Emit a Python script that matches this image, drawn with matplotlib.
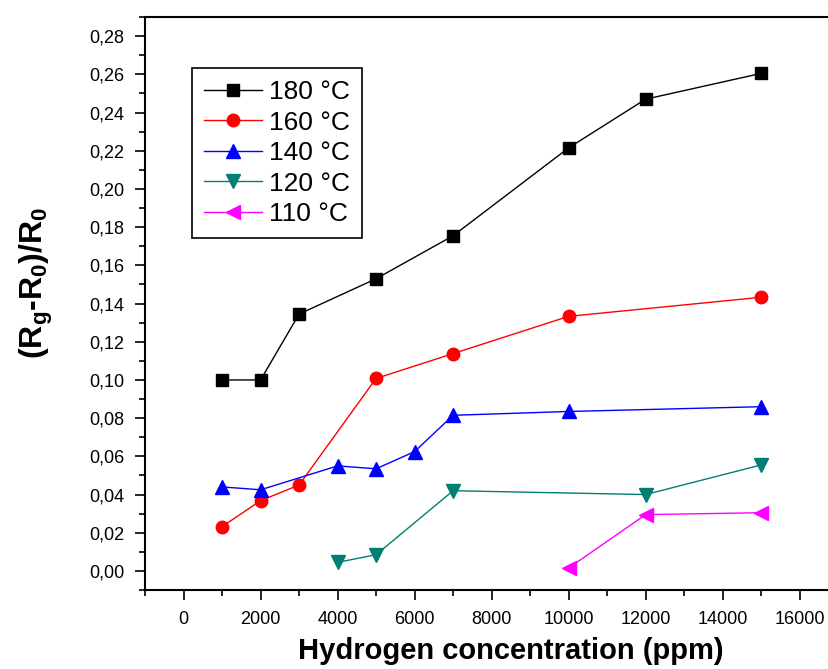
import matplotlib
matplotlib.use("Agg")
import matplotlib.pyplot as plt
from matplotlib.ticker import MultipleLocator, FuncFormatter

plt.rcParams['font.family'] = ['Liberation Sans', 'DejaVu Sans']
plt.rcParams['mathtext.default'] = 'regular'

# data
x180 = [1000, 2000, 3000, 5000, 7000, 10000, 12000, 15000]
y180 = [0.100, 0.100, 0.1345, 0.153, 0.1755, 0.2215, 0.247, 0.2605]

x160 = [1000, 2000, 3000, 5000, 7000, 10000, 15000]
y160 = [0.0232, 0.0368, 0.0450, 0.1008, 0.1138, 0.1333, 0.1433]

x140 = [1000, 2000, 4000, 5000, 6000, 7000, 10000, 15000]
y140 = [0.0440, 0.0425, 0.0550, 0.0535, 0.0625, 0.0815, 0.0835, 0.0860]

x120 = [4000, 5000, 7000, 12000, 15000]
y120 = [0.0045, 0.0085, 0.0420, 0.0400, 0.0555]

x110 = [10000, 12000, 15000]
y110 = [0.0015, 0.0295, 0.0305]

fig = plt.figure(figsize=(8.29, 6.69), dpi=100)
ax = fig.add_axes([0.175, 0.118, 0.836, 0.8565])

ax.plot(x180, y180, '-s', color='black', lw=1, ms=8, label='180 °C')
ax.plot(x160, y160, '-o', color='red', lw=1, ms=9, label='160 °C')
ax.plot(x140, y140, '-^', color='blue', lw=1, ms=10, label='140 °C')
ax.plot(x120, y120, '-v', color='#007f72', lw=1, ms=10, label='120 °C')
ax.plot(x110, y110, '-<', color='magenta', lw=1, ms=10, label='110 °C')

ax.set_xlim(-1000, 17000)
ax.set_ylim(-0.01, 0.29)
ax.xaxis.set_major_locator(MultipleLocator(2000))
ax.xaxis.set_minor_locator(MultipleLocator(1000))
ax.yaxis.set_major_locator(MultipleLocator(0.02))
ax.yaxis.set_minor_locator(MultipleLocator(0.01))
ax.yaxis.set_major_formatter(FuncFormatter(lambda v, p: ('%.2f' % v).replace('.', ',')))

ax.tick_params(which='major', direction='out', length=7, width=1.2, labelsize=13, pad=8)
ax.tick_params(which='minor', direction='out', length=4, width=1.2)
for s in ax.spines.values():
    s.set_linewidth(1.5)
ax.spines['right'].set_visible(False)

ax.set_xlabel('Hydrogen concentration (ppm)', fontsize=21, fontweight='bold')
ax.xaxis.set_label_coords(0.528, -0.082)
ax.set_ylabel('(R$_g$-R$_0$)/R$_0$', fontsize=23, fontweight='bold')
ax.yaxis.set_label_coords(-0.13, 0.536)

leg = ax.legend(loc='upper left', bbox_to_anchor=(0.068, 0.911), fontsize=19,
                frameon=True, fancybox=False, edgecolor='black', framealpha=1,
                borderaxespad=0, handlelength=2.2, borderpad=0.45,
                labelspacing=0.25, handletextpad=0.25)
leg.get_frame().set_linewidth(1.2)

fig.savefig('out.png', dpi=100)
